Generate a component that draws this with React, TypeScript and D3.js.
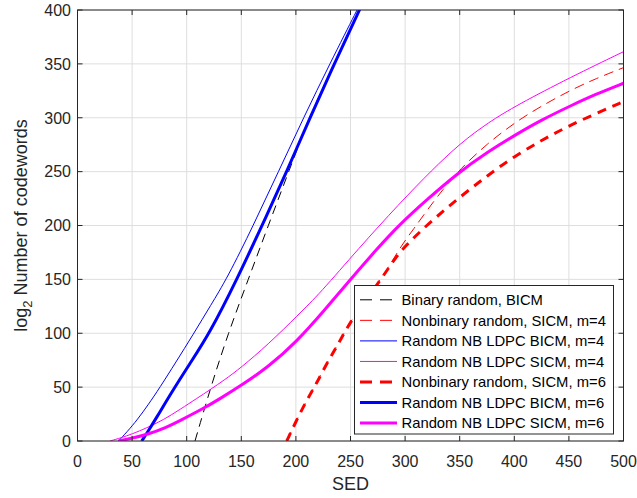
import React from "react";
import * as d3 from "d3";

const xTicks = [0, 50, 100, 150, 200, 250, 300, 350, 400, 450, 500];
const yTicks = [0, 50, 100, 150, 200, 250, 300, 350, 400];

const binaryBicm: [number, number][] = [
  [107.6, 0], [122, 50], [138, 100], [156.4, 150], [174.7, 200], [194, 251.5], [212, 300], [236, 352], [259, 402],
];
const nonbinarySicm4: [number, number][] = [
  [191.6, 0], [200, 18], [209.9, 38], [219, 54], [228, 72], [237.4, 88], [246.5, 105], [260, 126], [275.5, 147],
  [287.7, 166], [297, 182], [308, 197], [320, 214], [335, 234], [350, 252], [375, 276], [402.5, 297], [425, 311],
  [451.3, 325.5], [475, 336.5], [500, 346.5],
];
const ldpcBicm4: [number, number][] = [
  [37.4, 0], [45, 8], [55, 20], [65, 34], [75, 49], [90, 73], [106, 99], [122, 126], [137, 151], [161, 200],
  [184, 250], [207, 300], [231, 350], [258, 404],
];
const ldpcSicm4: [number, number][] = [
  [29.8, 0], [40, 3], [50, 6.5], [63, 12], [78.6, 19.5], [94, 29.4], [110, 40], [121, 47.3], [135, 57], [149, 67.5],
  [175, 90], [202, 117], [222, 137], [257.5, 178.8], [295, 220.6], [324.6, 251.5], [350.5, 276.3], [376, 295.5],
  [402.5, 311.8], [451.3, 337.5], [500, 361.3],
];
const nonbinarySicm6: [number, number][] = [
  [191.6, 0], [200, 18], [209.9, 38], [219, 53.5], [228.2, 72], [237.4, 87.5], [246.5, 104.6], [260, 126],
  [275.5, 146.3], [287.7, 165], [298.7, 180], [325, 205], [350.5, 226.7], [375, 246], [399.5, 263.9], [425, 279],
  [448.3, 291.7], [475, 304], [500, 315],
];
const ldpcBicm6: [number, number][] = [
  [58.8, 0], [64, 8], [72, 21], [86, 45], [103, 72], [121, 100], [146, 150], [169, 200], [192, 251],
  [212, 298], [236, 352], [260, 404],
];
const ldpcSicm6: [number, number][] = [
  [37.4, 0], [50, 2.5], [65, 6.5], [80, 12], [94, 19], [115, 30], [130, 39], [150, 51.5], [175, 69], [200, 91.5],
  [225, 120], [250, 150], [274, 178], [295, 201], [320, 224], [347.5, 248], [375, 268], [402.5, 285], [425, 298],
  [451.3, 311], [475, 322], [500, 332],
];

const seriesLabels = [
  "Binary random, BICM",
  "Nonbinary random, SICM, m=4",
  "Random NB LDPC BICM, m=4",
  "Random NB LDPC SICM, m=4",
  "Nonbinary random, SICM, m=6",
  "Random NB LDPC BICM, m=6",
  "Random NB LDPC SICM, m=6",
];
const seriesData = [binaryBicm, nonbinarySicm4, ldpcBicm4, ldpcSicm4, nonbinarySicm6, ldpcBicm6, ldpcSicm6];
const seriesStyle = [
  { color: "#000000", width: 1, dash: "9,6" },
  { color: "#ff0000", width: 1, dash: "10,6" },
  { color: "#0000ff", width: 1, dash: "" },
  { color: "#ff00ff", width: 1, dash: "" },
  { color: "#ff0000", width: 3, dash: "9,7" },
  { color: "#0000ff", width: 3, dash: "" },
  { color: "#ff00ff", width: 3, dash: "" },
];

export default function App() {
  const L = 77.5, R = 623.5, T = 10, B = 441;
  const x = d3.scaleLinear().domain([0, 500]).range([L, R]);
  const y = d3.scaleLinear().domain([0, 400]).range([B, T]);
  const line = d3
    .line<[number, number]>()
    .x((d) => x(d[0]))
    .y((d) => y(d[1]))
    .curve(d3.curveBasis);
  const axisColor = "#262626";
  const font = "'Liberation Sans', Arial, Helvetica, sans-serif";

  const legL = 354.5, legT = 285.5, legR = 613.5, legB = 434;
  const rowY0 = 299.8, rowStep = 20.55;

  return (
    <svg
      width={637}
      height={498}
      style={{ position: "absolute", left: 0, top: 0, background: "#fff" }}
      fontFamily={font}
    >
      <defs>
        <clipPath id="plotclip">
          <rect x={L} y={T} width={R - L} height={B - T} />
        </clipPath>
      </defs>
      <rect x={0} y={0} width={637} height={498} fill="#fff" />
      <rect x={L} y={T} width={R - L} height={B - T} fill="#fff" />
      {xTicks.map((t) => (
        <line key={"gx" + t} x1={x(t)} x2={x(t)} y1={T} y2={B} stroke="#dedede" strokeWidth={1} />
      ))}
      {yTicks.map((t) => (
        <line key={"gy" + t} x1={L} x2={R} y1={y(t)} y2={y(t)} stroke="#dedede" strokeWidth={1} />
      ))}
      <g clipPath="url(#plotclip)">
        {seriesData.map((d, i) => (
          <path
            key={"s" + i}
            d={line(d) || ""}
            fill="none"
            stroke={seriesStyle[i].color}
            strokeWidth={seriesStyle[i].width}
            strokeDasharray={seriesStyle[i].dash || undefined}
          />
        ))}
      </g>
      <rect x={L} y={T} width={R - L} height={B - T} fill="none" stroke={axisColor} strokeWidth={1} />
      {xTicks.map((t) => (
        <g key={"tx" + t}>
          <line x1={x(t)} x2={x(t)} y1={B} y2={B - 5} stroke={axisColor} />
          <line x1={x(t)} x2={x(t)} y1={T} y2={T + 5} stroke={axisColor} />
          <text x={x(t)} y={467} textAnchor="middle" fontSize={16} fill={axisColor}>
            {t}
          </text>
        </g>
      ))}
      {yTicks.map((t) => (
        <g key={"ty" + t}>
          <line x1={L} x2={L + 5} y1={y(t)} y2={y(t)} stroke={axisColor} />
          <line x1={R} x2={R - 5} y1={y(t)} y2={y(t)} stroke={axisColor} />
          <text x={71} y={y(t)} dy="0.36em" textAnchor="end" fontSize={16} fill={axisColor}>
            {t}
          </text>
        </g>
      ))}
      <text x={(L + R) / 2} y={490} textAnchor="middle" fontSize={18} fill={axisColor}>
        SED
      </text>
      <text transform={`translate(27,${(T + B) / 2}) rotate(-90)`} textAnchor="middle" fontSize={18} fill={axisColor}>
        log
        <tspan fontSize={13} dy={5}>2</tspan>
        <tspan dy={-5}> Number of codewords</tspan>
      </text>
      <rect x={legL} y={legT} width={legR - legL} height={legB - legT} fill="#fff" stroke={axisColor} strokeWidth={1} />
      {seriesLabels.map((lab, i) => {
        const ry = rowY0 + i * rowStep;
        return (
          <g key={"lg" + i}>
            <line
              x1={360}
              x2={397}
              y1={ry}
              y2={ry}
              stroke={seriesStyle[i].color}
              strokeWidth={seriesStyle[i].width}
              strokeDasharray={seriesStyle[i].dash ? "12,8" : undefined}
            />
            <text x={401.5} y={ry} dy="0.36em" fontSize={14.8} fill="#000">
              {lab}
            </text>
          </g>
        );
      })}
    </svg>
  );
}
